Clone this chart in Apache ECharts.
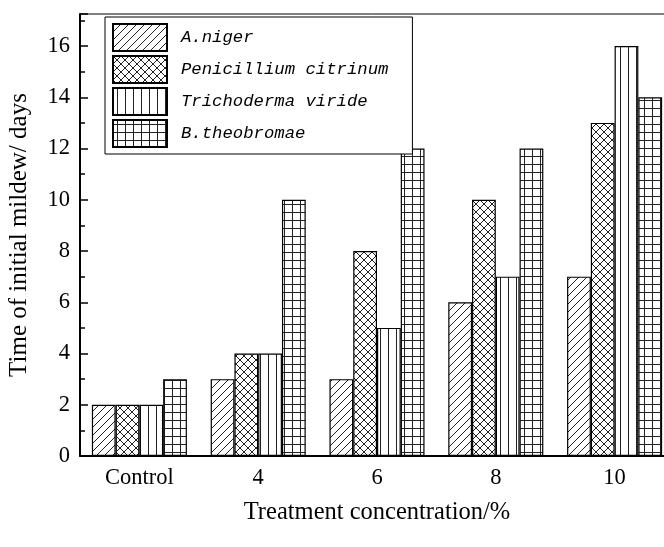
<!DOCTYPE html>
<html>
<head>
<meta charset="utf-8">
<script src="https://cdn.jsdelivr.net/npm/echarts@6/dist/echarts.min.js"></script>
<style>
html,body{margin:0;padding:0;background:#fff;}
#chart{width:664px;height:547px;}
</style>
</head>
<body>
<div id="chart"></div>
<script>
const categories = ['Control', '4', '6', '8', '10'];
const seriesNames = ['A.niger', 'Penicillium citrinum', 'Trichoderma viride', 'B.theobromae'];
const aNiger = [2, 3, 3, 6, 7];
const penicillium = [2, 4, 8, 10, 13];
const trichoderma = [2, 4, 5, 7, 16];
const bTheobromae = [3, 10, 12, 12, 14];
const patternTypes = ['diag', 'cross', 'vert', 'grid'];

function makePattern(type) {
  const s = 8;
  const c = document.createElement('canvas');
  c.width = s; c.height = s;
  const ctx = c.getContext('2d');
  ctx.fillStyle = '#fff';
  ctx.fillRect(0, 0, s, s);
  ctx.strokeStyle = '#222';
  ctx.lineWidth = 1;
  ctx.beginPath();
  if (type === 'diag' || type === 'cross') {
    ctx.moveTo(-1, s + 1); ctx.lineTo(s + 1, -1);
    ctx.moveTo(-1, 1); ctx.lineTo(1, -1);
    ctx.moveTo(s - 1, s + 1); ctx.lineTo(s + 1, s - 1);
  }
  if (type === 'cross') {
    ctx.moveTo(-1, -1); ctx.lineTo(s + 1, s + 1);
    ctx.moveTo(s - 1, -1); ctx.lineTo(s + 1, 1);
    ctx.moveTo(-1, s - 1); ctx.lineTo(1, s + 1);
  }
  if (type === 'vert' || type === 'grid') {
    ctx.moveTo(4.5, 0); ctx.lineTo(4.5, s);
  }
  if (type === 'grid') {
    ctx.moveTo(0, 4.5); ctx.lineTo(s, 4.5);
  }
  ctx.stroke();
  return { image: c, repeat: 'repeat' };
}

const allData = [aNiger, penicillium, trichoderma, bTheobromae];
const serif = '"Liberation Serif", "Times New Roman", serif';

const chart = echarts.init(document.getElementById('chart'), null, { renderer: 'canvas' });
chart.setOption({
  animation: false,
  backgroundColor: '#fff',
  grid: {
    left: 80, top: 14, width: 594, bottom: 91,
    containLabel: false,
    outerBoundsMode: 'none',
    show: true, borderColor: '#000', borderWidth: 1, backgroundColor: 'transparent'
  },
  legend: {
    orient: 'vertical',
    left: 105, top: 17,
    icon: 'rect',
    itemWidth: 54, itemHeight: 27, itemGap: 3,
    padding: [6, 24, 6, 7],
    borderColor: '#000', borderWidth: 1, backgroundColor: '#fff',
    textStyle: {
      fontFamily: '"Liberation Mono", "DejaVu Sans Mono", monospace',
      fontStyle: 'italic', fontSize: 17.3, color: '#000',
      padding: [0, 0, 0, 9]
    },
    data: seriesNames
  },
  xAxis: {
    type: 'category',
    data: categories,
    axisLine: { lineStyle: { color: '#000', width: 2 } },
    axisTick: { show: false },
    axisLabel: { color: '#000', fontFamily: serif, fontSize: 22.5, margin: 11 },
    name: 'Treatment concentration/%',
    nameLocation: 'middle',
    nameGap: 44,
    nameTextStyle: { color: '#000', fontFamily: serif, fontSize: 24.5 }
  },
  yAxis: {
    type: 'value',
    min: 0, max: 17.25, interval: 2,
    axisLine: { show: true, lineStyle: { color: '#000', width: 2 } },
    axisTick: { show: true, inside: true, length: 8, lineStyle: { color: '#000', width: 1.5 } },
    minorTick: { show: true, splitNumber: 2, length: 5, lineStyle: { color: '#000', width: 1.5 } },
    splitLine: { show: false },
    axisLabel: { color: '#000', fontFamily: serif, fontSize: 22.5, margin: 10, showMaxLabel: false },
    name: 'Time of initial mildew/ days',
    nameLocation: 'middle',
    nameGap: 48,
    nameRotate: 90,
    nameTextStyle: { color: '#000', fontFamily: serif, fontSize: 25 }
  },
  series: seriesNames.map((name, i) => ({
    name: name,
    type: 'bar',
    data: allData[i],
    barGap: '0%',
    barCategoryGap: '20%',
    itemStyle: { color: makePattern(patternTypes[i]), borderColor: '#000', borderWidth: 1.2 },
    emphasis: { disabled: true }
  }))
});
</script>
</body>
</html>
